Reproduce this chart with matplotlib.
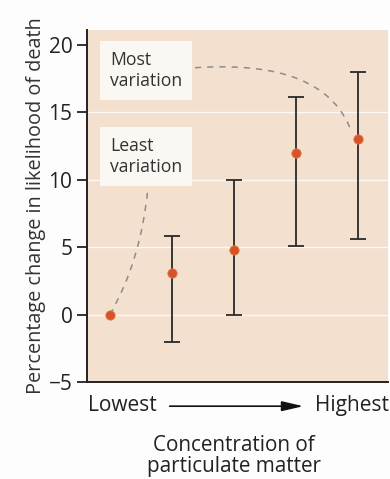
import matplotlib.pyplot as plt
from matplotlib.path import Path
from matplotlib.patches import PathPatch, FancyArrowPatch

plt.rcParams['font.family'] = ['Open Sans', 'DejaVu Sans']

groups = [1, 2, 3, 4, 5]
values = [0, 3.1, 4.8, 12.0, 13.0]
upper = [0, 5.8, 10.0, 16.1, 18.0]
lower = [0, -2.0, 0.0, 5.1, 5.6]
yticks = [-5, 0, 5, 10, 15, 20]

# dashed guide curves (data coords, bezier control points)
least_curve = [(1.0, 0.0), (1.5, 4.0), (1.61, 9.3)]
most_curve = [(2.37, 18.3), (3.4, 18.6), (4.5, 18.0), (4.87, 13.8)]

fig = plt.figure(figsize=(3.9, 4.79), dpi=100)
ax = fig.add_axes([0.223, 0.2025, 0.772, 0.735])
ax.set_facecolor('#f4e0cf')

for y in [0, 5, 10, 15]:
    ax.axhline(y, color='white', lw=1.0, alpha=0.8, zorder=1)

yerr = [[v - lo for v, lo in zip(values, lower)], [hi - v for v, hi in zip(values, upper)]]
ax.errorbar(groups[1:], values[1:], yerr=[yerr[0][1:], yerr[1][1:]], fmt='none',
            ecolor='#2a2a2a', elinewidth=1.3, capsize=6, capthick=1.3, zorder=3)
ax.scatter(groups, values, s=45, color='#d6512c', edgecolor='#e07a3a', lw=0.6, zorder=4)

p1 = Path(least_curve, [Path.MOVETO, Path.CURVE3, Path.CURVE3])
ax.add_patch(PathPatch(p1, fill=False, ls=(0, (4, 4)), color='#8c8c8c', lw=1.1, zorder=2))
p2 = Path(most_curve, [Path.MOVETO, Path.CURVE4, Path.CURVE4, Path.CURVE4])
ax.add_patch(PathPatch(p2, fill=False, ls=(0, (4, 4)), color='#8c8c8c', lw=1.1, zorder=2))

box = dict(boxstyle='square,pad=0.55', fc='#fbf7f3', ec='none')
ax.text(1.0, 18.1, 'Most\nvariation', fontsize=12.7, color='#333333', va='center', ha='left',
        bbox=box, linespacing=1.25, zorder=5)
ax.text(1.0, 11.7, 'Least\nvariation', fontsize=12.7, color='#333333', va='center', ha='left',
        bbox=box, linespacing=1.25, zorder=5)

ax.set_xlim(0.63, 5.48)
ax.set_ylim(-5, 21.1)
ax.set_yticks(yticks)
ax.set_yticklabels(['\u22125', '0', '5', '10', '15', '20'])
ax.set_xticks([])
ax.tick_params(axis='y', direction='out', length=7, width=1.3, labelsize=15, colors='#222222')
for s in ['top', 'right']:
    ax.spines[s].set_visible(False)
for s in ['left', 'bottom']:
    ax.spines[s].set_linewidth(1.4)
    ax.spines[s].set_color('#222222')

ax.set_ylabel('Percentage change in likelihood of death', fontsize=14.3, color='#333333', labelpad=2)

fig.text(0.225, 0.154, 'Lowest', fontsize=15, color='#222222', va='center', ha='left')
fig.text(0.997, 0.154, 'Highest', fontsize=15, color='#222222', va='center', ha='right')
fig.patches.append(FancyArrowPatch((0.428, 0.152), (0.785, 0.152), transform=fig.transFigure,
                                   arrowstyle='-|>,head_length=13,head_width=3', color='#111111',
                                   lw=1.2, mutation_scale=1))
fig.text(0.6, 0.047, 'Concentration of\nparticulate matter', fontsize=14.9, color='#222222',
         ha='center', va='center', linespacing=1.0)

fig.savefig('out.png', dpi=100, facecolor='#fdfdfd')
